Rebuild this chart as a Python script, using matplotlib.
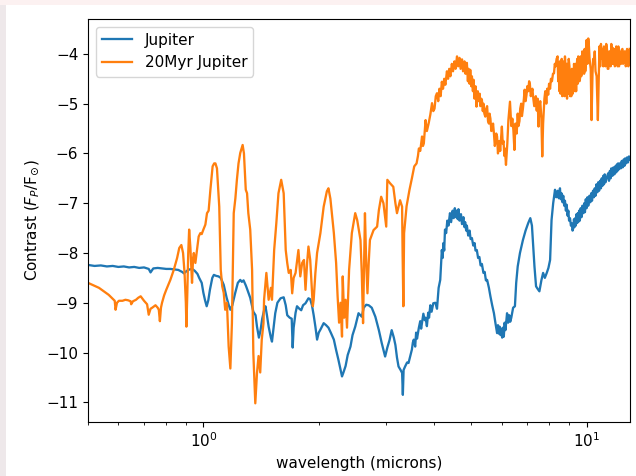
import numpy as np
import matplotlib
matplotlib.use('Agg')
import matplotlib.pyplot as plt
from matplotlib.patches import Rectangle

plt.rcParams['font.size'] = 11

# Jupiter contrast spectrum (wavelength in microns, log10 contrast)
jup_wl = [0.50, 0.52, 0.54, 0.56, 0.58, 0.60, 0.62, 0.64, 0.66, 0.68, 0.70, 0.72, 0.728, 0.74,
          0.76, 0.78, 0.80, 0.82, 0.84, 0.86, 0.88, 0.89, 0.905, 0.92, 0.935, 0.95, 0.965, 0.975,
          0.99, 1.00, 1.01, 1.02, 1.03, 1.04, 1.055, 1.065, 1.08, 1.095, 1.11, 1.13, 1.15, 1.165,
          1.176, 1.19, 1.21, 1.23, 1.248, 1.26, 1.273, 1.29, 1.30, 1.325, 1.35, 1.368, 1.38, 1.396,
          1.41, 1.424, 1.44, 1.452, 1.465, 1.48, 1.50, 1.51, 1.525, 1.54, 1.56, 1.59, 1.62, 1.64,
          1.655, 1.68, 1.70, 1.71, 1.72, 1.74, 1.755, 1.78, 1.80, 1.82, 1.847, 1.88, 1.90, 1.92,
          1.94, 1.96, 1.98, 2.00, 2.02, 2.06, 2.09, 2.12, 2.15, 2.19, 2.22, 2.25, 2.28, 2.30, 2.32,
          2.35, 2.38, 2.42, 2.45, 2.49, 2.54, 2.59, 2.62, 2.66, 2.70, 2.75, 2.81, 2.87, 2.92, 2.98,
          3.02, 3.06, 3.10, 3.14, 3.17, 3.20, 3.23, 3.27, 3.30, 3.315, 3.33, 3.36, 3.40, 3.43, 3.47,
          3.50, 3.52, 3.54, 3.57, 3.59, 3.61, 3.65, 3.68, 3.70, 3.72, 3.75, 3.78, 3.80, 3.83, 3.86,
          3.88, 3.91, 3.94, 3.98, 4.03, 4.07, 4.11, 4.15, 4.19, 4.21, 4.23, 4.25, 4.27, 4.30, 4.33,
          4.36, 4.40, 4.43, 4.47, 4.50, 4.53, 4.56, 4.58, 4.61, 4.63, 4.66, 4.70, 4.73, 4.77, 4.80,
          4.82, 4.85, 4.87, 4.91, 4.95, 4.98, 5.02, 5.06, 5.10, 5.13, 5.17, 5.21, 5.25, 5.29, 5.33,
          5.38, 5.42, 5.46, 5.50, 5.56, 5.61, 5.67, 5.73, 5.78, 5.84, 5.87, 5.90, 5.93, 5.96, 6.00,
          6.02, 6.05, 6.08, 6.11, 6.14, 6.20, 6.24, 6.28, 6.32, 6.36, 6.43, 6.50, 6.55, 6.61, 6.70,
          6.82, 6.93, 7.04, 7.13, 7.20, 7.24, 7.31, 7.38, 7.45, 7.53, 7.62, 7.70, 7.78, 7.87, 7.95,
          8.03, 8.07, 8.10, 8.18, 8.27, 8.33, 8.40, 8.46, 8.52, 8.56, 8.60, 8.65, 8.69, 8.74, 8.78,
          8.83, 8.87, 8.92, 8.96, 9.00, 9.05, 9.10, 9.14, 9.19, 9.23, 9.27, 9.30, 9.34, 9.37, 9.41,
          9.44, 9.48, 9.51, 9.56, 9.60, 9.65, 9.70, 9.75, 9.81, 9.86, 9.90, 9.95, 10.0, 10.05, 10.1,
          10.17, 10.23, 10.28, 10.33, 10.39, 10.45, 10.50, 10.55, 10.61, 10.67, 10.72, 10.78, 10.84,
          10.9, 10.95, 11.0, 11.05, 11.1, 11.15, 11.2, 11.29, 11.38, 11.44, 11.5, 11.55, 11.6, 11.68,
          11.75, 11.82, 11.9, 11.95, 12.0, 12.04, 12.08, 12.14, 12.2, 12.28, 12.35, 12.42, 12.5,
          12.55, 12.6, 12.68, 12.75, 12.82, 12.9, 12.95]
jup_c = [-8.24, -8.26, -8.25, -8.27, -8.26, -8.28, -8.27, -8.29, -8.28, -8.30, -8.29, -8.32, -8.39, -8.31,
         -8.30, -8.31, -8.32, -8.32, -8.33, -8.34, -8.38, -8.41, -8.36, -8.33, -8.32, -8.36, -8.42, -8.50,
         -8.60, -8.80, -8.95, -9.07, -8.95, -8.74, -8.50, -8.44, -8.46, -8.47, -8.50, -8.64, -8.90, -9.05,
         -9.14, -9.05, -8.81, -8.60, -8.54, -8.58, -8.55, -8.65, -8.72, -8.90, -9.18, -9.25, -9.48, -9.70,
         -9.55, -9.32, -9.15, -9.07, -9.25, -9.48, -9.70, -9.78, -9.50, -9.21, -9.00, -8.91, -8.89, -9.05,
         -9.25, -9.30, -9.32, -9.90, -9.50, -9.20, -9.07, -9.12, -9.15, -9.05, -9.01, -8.91, -8.93, -9.05,
         -9.25, -9.48, -9.74, -9.60, -9.54, -9.41, -9.45, -9.50, -9.60, -9.74, -9.95, -10.14, -10.35, -10.48, -10.40,
         -10.27, -10.05, -9.88, -9.65, -9.48, -9.21, -9.28, -9.10, -9.04, -9.05, -9.10, -9.28, -9.55, -9.81, -10.08,
         -9.90, -9.75, -9.55, -9.70, -9.85, -10.10, -10.28, -10.35, -10.41, -10.85, -10.35, -10.28, -10.20, -10.21, -10.05,
         -9.94, -9.80, -9.74, -9.88, -9.60, -9.72, -9.50, -9.37, -9.52, -9.40, -9.22, -9.35, -9.30, -9.47, -9.20,
         -9.30, -9.05, -9.18, -9.01, -9.00, -9.12, -8.70, -8.54, -7.94, -8.10, -7.80, -7.95, -7.53, -7.60, -7.35,
         -7.45, -7.20, -7.38, -7.15, -7.30, -7.10, -7.28, -7.15, -7.32, -7.12, -7.35, -7.22, -7.42, -7.28, -7.48,
         -7.38, -7.55, -7.45, -7.65, -7.55, -7.72, -7.70, -7.85, -7.80, -7.95, -7.94, -8.10, -8.08, -8.25, -8.22,
         -8.40, -8.38, -8.55, -8.54, -8.70, -8.87, -9.05, -9.21, -9.40, -9.61, -9.45, -9.62, -9.48, -9.65, -9.52,
         -9.70, -9.50, -9.68, -9.40, -9.55, -9.21, -9.40, -9.25, -9.38, -9.30, -9.10, -9.07, -8.60, -8.27, -8.00,
         -7.74, -7.55, -7.40, -7.30, -7.45, -7.74, -8.27, -8.67, -8.72, -8.77, -8.55, -8.40, -8.50, -8.40, -8.30,
         -8.14, -7.70, -7.34, -7.00, -6.73, -6.88, -6.75, -6.90, -6.70, -6.92, -6.80, -6.98, -6.85, -7.05, -6.95,
         -7.15, -7.03, -7.25, -7.15, -7.35, -7.30, -7.45, -7.40, -7.55, -7.50, -7.32, -7.48, -7.30, -7.45, -7.22,
         -7.40, -7.20, -7.38, -7.15, -7.35, -7.10, -7.28, -7.05, -7.20, -7.00, -7.18, -6.92, -7.10, -6.88, -7.05,
         -6.85, -6.98, -6.80, -6.95, -6.75, -6.88, -6.70, -6.85, -6.62, -6.78, -6.58, -6.75, -6.55,
         -6.70, -6.50, -6.65, -6.45, -6.62, -6.42, -6.58, -6.48, -6.40, -6.55, -6.35, -6.50, -6.30, -6.45,
         -6.28, -6.42, -6.25, -6.38, -6.22, -6.35, -6.20, -6.32, -6.20, -6.30, -6.15, -6.28, -6.12,
         -6.25, -6.10, -6.20, -6.08, -6.18, -6.06, -6.12]

# young (20 Myr) Jupiter contrast spectrum
young_wl = [0.50, 0.52, 0.534, 0.55, 0.566, 0.58, 0.587, 0.59, 0.595, 0.602, 0.615, 0.626, 0.636, 0.646,
            0.648, 0.655, 0.667, 0.676, 0.686, 0.70, 0.713, 0.72, 0.728, 0.735, 0.75, 0.76, 0.765, 0.77,
            0.775, 0.78, 0.79, 0.80, 0.82, 0.837, 0.854, 0.865, 0.876, 0.885, 0.893, 0.90, 0.903, 0.908,
            0.913, 0.918, 0.925, 0.934, 0.94, 0.944, 0.953, 0.962, 0.972, 0.982, 0.99, 1.0, 1.012, 1.022,
            1.032, 1.043, 1.057, 1.067, 1.075, 1.085, 1.10, 1.11, 1.12, 1.13, 1.14, 1.152, 1.164, 1.176,
            1.187, 1.20, 1.212, 1.223, 1.235, 1.248, 1.266, 1.276, 1.29, 1.30, 1.31, 1.325, 1.34, 1.35,
            1.366, 1.38, 1.393, 1.407, 1.42, 1.435, 1.44, 1.46, 1.48, 1.50, 1.51, 1.53, 1.55, 1.57,
            1.596, 1.62, 1.64, 1.655, 1.67, 1.69, 1.705, 1.72, 1.74, 1.77, 1.79, 1.81, 1.83, 1.847,
            1.865, 1.88, 1.90, 1.92, 1.93, 1.94, 1.96, 1.98, 2.02, 2.06, 2.10, 2.12, 2.145, 2.19,
            2.22, 2.24, 2.26, 2.28, 2.30, 2.31, 2.33, 2.35, 2.37, 2.40, 2.44, 2.49, 2.52, 2.57,
            2.59, 2.61, 2.625, 2.64, 2.66, 2.68, 2.70, 2.72, 2.78, 2.84, 2.87, 2.91, 2.95, 3.00,
            3.02, 3.07, 3.13, 3.17, 3.20, 3.26, 3.30, 3.31, 3.325, 3.34, 3.39, 3.45, 3.50, 3.55,
            3.60, 3.63, 3.65, 3.68, 3.72, 3.74, 3.76, 3.80, 3.83, 3.87, 3.91, 3.95, 3.98, 4.01, 4.04,
            4.07, 4.10, 4.13, 4.16, 4.19, 4.22, 4.25, 4.28, 4.32, 4.35, 4.38, 4.41, 4.45, 4.48, 4.52,
            4.55, 4.59, 4.62, 4.66, 4.69, 4.73, 4.76, 4.80, 4.83, 4.87, 4.90, 4.92, 4.95, 4.97, 5.00,
            5.02, 5.05, 5.07, 5.10, 5.13, 5.16, 5.20, 5.23, 5.26, 5.28, 5.31, 5.33, 5.36, 5.38, 5.41,
            5.44, 5.47, 5.50, 5.53, 5.56, 5.58, 5.61, 5.64, 5.67, 5.70, 5.73, 5.76, 5.78, 5.81, 5.84,
            5.87, 5.89, 5.92, 5.95, 5.98, 6.01, 6.04, 6.07, 6.10, 6.12, 6.16, 6.21, 6.25, 6.31, 6.36,
            6.40, 6.44, 6.48, 6.52, 6.57, 6.61, 6.64, 6.68, 6.71, 6.75, 6.78, 6.82, 6.86, 6.89, 6.93,
            6.97, 7.00, 7.04, 7.08, 7.11, 7.15, 7.18, 7.22, 7.26, 7.30, 7.33, 7.37, 7.41, 7.45, 7.49,
            7.53, 7.57, 7.62, 7.66, 7.70, 7.76, 7.80, 7.85, 7.89, 7.94, 7.98, 8.03, 8.07, 8.12, 8.17,
            8.22, 8.26, 8.30, 8.35, 8.40, 8.43, 8.46, 8.49, 8.52, 8.55, 8.58, 8.61, 8.64, 8.67, 8.70,
            8.73, 8.76, 8.78, 8.80, 8.83, 8.86, 8.89, 8.92, 8.95, 8.98, 9.02, 9.06, 9.09, 9.12, 9.15,
            9.18, 9.20, 9.23, 9.27, 9.30, 9.33, 9.36, 9.39, 9.41, 9.45, 9.48, 9.51, 9.55, 9.58, 9.61,
            9.65, 9.68, 9.71, 9.74, 9.78, 9.81, 9.85, 9.88, 9.92, 9.95, 10.0, 10.05, 10.1, 10.14, 10.18,
            10.25, 10.3, 10.36, 10.40, 10.45, 10.50, 10.55, 10.62, 10.7, 10.76, 10.80, 10.85, 10.90,
            10.95, 11.0, 11.05, 11.1, 11.15, 11.2, 11.25, 11.3, 11.35, 11.4, 11.45, 11.5, 11.55, 11.6,
            11.65, 11.7, 11.75, 11.8, 11.85, 11.9, 11.95, 12.0, 12.05, 12.1, 12.15, 12.2, 12.25, 12.3,
            12.35, 12.4, 12.45, 12.5, 12.55, 12.6, 12.65, 12.7, 12.75, 12.8, 12.85, 12.9, 12.95]
young_c = [-8.60, -8.66, -8.70, -8.77, -8.84, -8.92, -8.96, -9.14, -9.00, -8.96, -8.96, -8.94, -8.95, -8.97,
           -9.03, -8.97, -8.94, -8.90, -8.87, -8.96, -9.03, -9.24, -9.12, -9.10, -9.05, -9.10, -9.14, -9.37,
           -9.10, -9.00, -8.85, -8.74, -8.54, -8.34, -8.10, -7.90, -7.84, -8.00, -8.40, -9.00, -9.48, -8.80,
           -8.00, -7.53, -7.90, -8.60, -8.10, -8.00, -8.20, -7.95, -7.67, -7.60, -7.62, -7.53, -7.43, -7.20,
           -7.15, -6.73, -6.26, -6.20, -6.20, -6.30, -7.07, -8.34, -8.67, -8.80, -9.14, -9.00, -9.88, -10.32,
           -9.41, -7.20, -6.90, -6.53, -6.20, -5.99, -5.83, -6.00, -6.73, -6.80, -7.20, -7.53, -8.34, -10.01,
           -11.02, -10.41, -10.07, -10.40, -9.74, -9.41, -8.94, -8.40, -8.94, -8.70, -8.94, -7.94, -7.40, -6.80,
           -6.53, -6.80, -7.94, -8.20, -8.40, -8.34, -8.81, -8.50, -8.40, -7.94, -8.47, -8.20, -8.14, -8.74,
           -8.20, -7.87, -8.14, -8.74, -9.07, -8.94, -8.40, -8.00, -7.60, -7.07, -6.76, -6.70, -6.91, -7.60,
           -8.20, -8.87, -9.40, -9.00, -9.68, -8.47, -9.30, -8.94, -9.50, -8.34, -7.60, -7.20, -7.34, -7.74,
           -8.40, -9.41, -8.30, -7.20, -8.20, -8.81, -8.20, -7.74, -7.54, -7.47, -7.14, -6.87, -7.00, -7.47,
           -6.53, -6.60, -6.67, -7.00, -7.20, -6.94, -7.07, -8.00, -9.07, -7.60, -7.06, -6.73, -6.50, -6.26,
           -6.20, -6.05, -5.90, -5.95, -5.66, -5.85, -5.80, -5.33, -5.55, -5.40, -5.22, -4.99, -5.15, -5.10, -4.85,
           -4.79, -4.95, -4.70, -4.85, -4.56, -4.70, -4.50, -4.62, -4.35, -4.50, -4.30, -4.45, -4.20, -4.35, -4.15,
           -4.30, -4.05, -4.25, -4.08, -4.30, -4.11, -4.35, -4.15, -4.40, -4.18, -4.55, -4.30, -4.60, -4.32, -4.65,
           -4.45, -4.75, -4.52, -4.90, -4.65, -5.06, -4.75, -4.95, -4.80, -5.05, -4.90, -4.92, -5.15, -5.00, -5.20,
           -5.26, -5.10, -5.05, -5.35, -5.40, -5.20, -5.30, -5.55, -5.53, -5.40, -5.60, -5.85, -5.79, -5.60, -5.66,
           -6.00, -5.93, -5.75, -5.95, -5.70, -5.46, -5.80, -5.75, -6.05, -5.90, -6.23, -5.80, -5.33, -4.96, -5.45,
           -5.30, -5.53, -5.93, -5.40, -5.60, -5.20, -5.45, -5.35, -5.10, -5.00, -5.25, -5.10, -4.90, -4.72, -4.95,
           -4.82, -4.65, -4.75, -4.55, -4.60, -4.85, -4.80, -4.70, -4.90, -5.05, -5.00, -4.85, -5.14, -4.90, -5.46,
           -5.05, -4.95, -5.30, -6.06, -5.40, -4.90, -4.75, -5.00, -4.70, -4.82, -4.60, -4.70, -4.50, -4.55, -4.40,
           -4.39, -4.20, -4.25, -4.10, -4.05, -4.55, -4.40, -4.75, -4.15, -4.80, -4.60, -4.10, -4.85, -4.20, -4.70,
           -4.15, -4.85, -4.05, -4.25, -4.75, -4.20, -4.90, -4.20, -4.80, -4.10, -4.25, -4.85, -4.35, -4.85, -4.30,
           -4.35, -4.80, -4.66, -4.20, -4.30, -4.75, -4.20, -4.75, -4.35, -4.10, -4.60, -4.05, -4.15, -4.55, -4.50,
           -4.05, -4.45, -4.40, -3.95, -4.30, -4.13, -4.40, -3.90, -4.35, -4.20, -3.72, -4.20, -3.69, -3.85, -4.10,
           -4.30, -5.33, -4.40, -4.10, -4.20, -3.95, -4.35, -4.45, -5.33, -4.40, -3.85, -4.25, -3.80,
           -4.10, -3.90, -4.25, -3.85, -4.20, -4.25, -3.80, -3.90, -4.30, -4.30, -3.95, -3.95, -4.25, -3.80,
           -4.20, -3.88, -4.20, -3.90, -4.25, -4.12, -3.85, -3.90, -4.25, -3.85, -4.25, -3.95, -4.20, -4.20,
           -3.92, -3.90, -4.20, -4.15, -3.95, -3.95, -4.25, -4.18, -3.90, -3.98, -4.25, -4.05, -3.90]

fig = plt.figure(figsize=(6.36, 4.76), dpi=100)
# light frame strips along the left and top edges
fig.patches.append(Rectangle((0, 0), 6 / 636, 1, transform=fig.transFigure,
                             facecolor='#eee8ea', edgecolor='none', zorder=-1))
fig.patches.append(Rectangle((0, 1 - 5 / 476), 1, 5 / 476, transform=fig.transFigure,
                             facecolor='#fcf1f1', edgecolor='none', zorder=-1))

ax = fig.add_axes([0.1384, 0.114, 0.8516, 0.846])

ax.plot(jup_wl, jup_c, lw=1.65, label='Jupiter')
ax.plot(young_wl, young_c, lw=1.65, label='20Myr Jupiter')

ax.set_xscale('log')
ax.set_xlim(0.5, 12.95)
ax.set_ylim(-11.39, -3.30)
ax.set_xlabel('wavelength (microns)')
ax.set_ylabel(r'Contrast ($F_P$/F$_{\odot}$)')
ax.legend(loc='upper left')

fig.savefig('out.png', dpi=100)
